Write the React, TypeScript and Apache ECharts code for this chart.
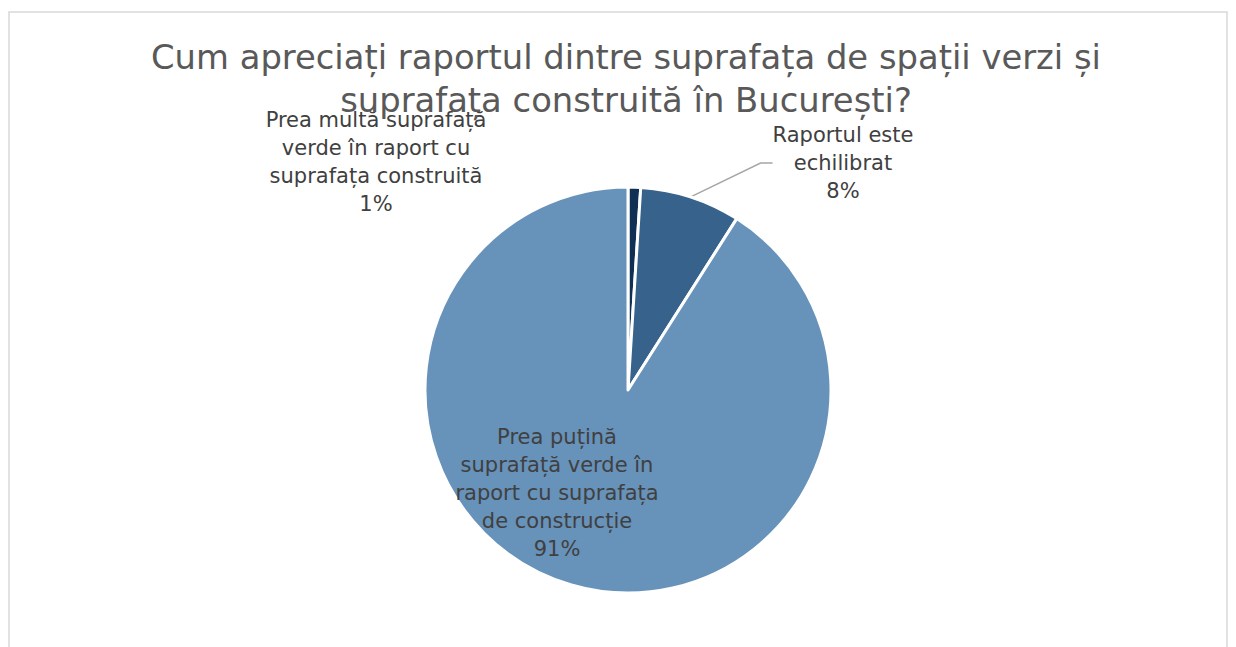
import React, { useEffect, useRef } from "react";
import * as echarts from "echarts";

const titleLines = [
  "Cum apreciați raportul dintre suprafața de spații verzi și",
  "suprafața construită în București?",
];
const categories = [
  "Prea multă suprafață\nverde în raport cu\nsuprafața construită",
  "Raportul este\nechilibrat",
  "Prea puțină\nsuprafață verde în\nraport cu suprafața\nde construcție",
];
const values = [1, 8, 91];
const colors = ["#0F2F55", "#36628B", "#6792BA"];
const labelSpots = [
  [376, 162],
  [843, 163],
  [557, 493],
];

export default function App() {
  const ref = useRef<HTMLDivElement>(null);
  useEffect(() => {
    if (!ref.current) return;
    const chart = echarts.init(ref.current, undefined, { renderer: "svg" });
    const font = "DejaVu Sans";
    chart.setOption({
      animation: false,
      backgroundColor: "#ffffff",
      title: {
        text: titleLines.join("\n"),
        left: 621,
        textAlign: "center",
        top: 31,
        textStyle: {
          fontFamily: font,
          fontSize: 33.8,
          fontWeight: "normal",
          color: "#595959",
          lineHeight: 43,
        },
      },
      graphic: [
        {
          type: "rect",
          shape: { x: 9, y: 12, width: 1218, height: 700 },
          style: { fill: "none", stroke: "#d9d9d9", lineWidth: 1.5 },
          z: -1,
        },
      ],
      series: [
        {
          type: "pie",
          center: [628, 390],
          radius: [0, 203],
          startAngle: 90,
          clockwise: true,
          avoidLabelOverlap: false,
          itemStyle: { borderColor: "#ffffff", borderWidth: 3 },
          label: {
            show: true,
            formatter: "{b}\n{c}%",
            fontFamily: font,
            fontSize: 21,
            lineHeight: 28,
            color: "#404040",
            align: "center",
          },
          labelLine: {
            show: true,
            length: 20,
            length2: 12,
            lineStyle: { color: "#a6a6a6", width: 1.5 },
          },
          labelLayout: (p: any) => {
            const s = labelSpots[p.dataIndex];
            return { x: s[0], y: s[1], align: "center", verticalAlign: "middle" };
          },
          data: values.map((v, i) => ({
            name: categories[i],
            value: v,
            itemStyle: { color: colors[i] },
            label: i === 2 ? { position: "inside" } : { position: "outside" },
            labelLine: { show: i === 1 },
          })),
        },
      ],
    });
    return () => chart.dispose();
  }, []);
  return (
    <div
      ref={ref}
      style={{ position: "fixed", left: 0, top: 0, width: 1236, height: 647 }}
    />
  );
}
